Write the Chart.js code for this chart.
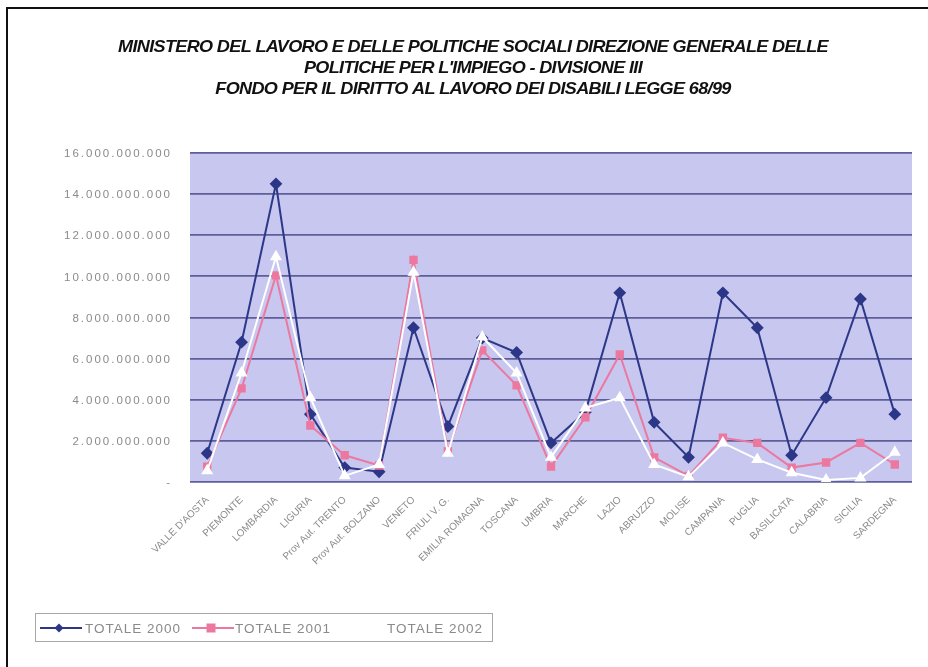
<!DOCTYPE html>
<html>
<head>
<meta charset="utf-8">
<script src="https://cdn.jsdelivr.net/npm/chart.js@4.4.1/dist/chart.umd.min.js"></script>
<style>
  html,body{margin:0;padding:0;background:#fff;}
  #wrap{position:relative;width:928px;height:667px;}
</style>
</head>
<body>
<div id="wrap"><canvas id="c" width="928" height="667"></canvas></div>
<script>
// --- dati (valori in lire) ---
const regioni = ["VALLE D'AOSTA","PIEMONTE","LOMBARDIA","LIGURIA","Prov Aut. TRENTO","Prov Aut. BOLZANO",
  "VENETO","FRIULI V. G.","EMILIA ROMAGNA","TOSCANA","UMBRIA","MARCHE","LAZIO","ABRUZZO","MOLISE",
  "CAMPANIA","PUGLIA","BASILICATA","CALABRIA","SICILIA","SARDEGNA"];
const totale2000 = [1.4e9,6.8e9,14.5e9,3.3e9,0.7e9,0.5e9,7.5e9,2.7e9,7.0e9,6.3e9,1.9e9,3.4e9,9.2e9,2.9e9,1.2e9,9.2e9,7.5e9,1.3e9,4.1e9,8.9e9,3.3e9];
const totale2001 = [0.75e9,4.55e9,10.05e9,2.75e9,1.3e9,0.8e9,10.8e9,1.5e9,6.4e9,4.7e9,0.75e9,3.15e9,6.2e9,1.2e9,0.3e9,2.15e9,1.9e9,0.7e9,0.95e9,1.9e9,0.85e9];
const totale2002 = [0.55e9,5.3e9,10.95e9,4.1e9,0.3e9,0.85e9,10.2e9,1.4e9,7.05e9,5.3e9,1.2e9,3.6e9,4.1e9,0.85e9,0.25e9,1.9e9,1.1e9,0.45e9,0.1e9,0.2e9,1.45e9];
const titolo = [
  "MINISTERO DEL LAVORO E DELLE POLITICHE SOCIALI DIREZIONE GENERALE DELLE",
  "POLITICHE PER L'IMPIEGO - DIVISIONE III",
  "FONDO PER IL DIRITTO AL LAVORO DEI DISABILI LEGGE 68/99"
];
const yMax = 16e9, yStep = 2e9;

const BLU = '#2d3788', ROSA = '#ec78a0', BIANCO = '#ffffff';
const GRIGIO = '#8a8a8a';
const FONT = '"Liberation Sans", Arial, sans-serif';

function fmt(v){
  if(v===0) return '-';
  return Math.round(v).toString().replace(/\B(?=(\d{3})+(?!\d))/g,'.');
}

// sfondo area grafico, cornice, titolo, etichette asse y e legenda
const decor = {
  id:'decor',
  beforeDraw(chart){
    const {ctx, chartArea:a} = chart;
    ctx.save();
    ctx.fillStyle = '#c7c7ef';
    ctx.fillRect(a.left, a.top, a.right-a.left, a.bottom-a.top);
    ctx.restore();
  },
  afterDraw(chart){
    const ctx = chart.ctx;
    ctx.save();
    // cornice scansionata
    ctx.strokeStyle = '#111';
    ctx.lineWidth = 2;
    ctx.beginPath();
    ctx.moveTo(7,667); ctx.lineTo(7,8); ctx.lineTo(928,8);
    ctx.stroke();

    // titolo (grassetto corsivo compresso come nell'originale)
    ctx.fillStyle = '#111';
    ctx.textAlign = 'center';
    ctx.textBaseline = 'middle';
    ctx.font = 'italic bold 16.5px ' + FONT;
    ctx.letterSpacing = '-0.6px';
    const sx = 710 / ctx.measureText(titolo[0]).width;
    titolo.forEach((t,i)=>{
      ctx.save();
      ctx.translate(473, 47 + i*21);
      ctx.scale(sx, 1);
      ctx.fillText(t, 0, 0);
      ctx.restore();
    });

    // etichette asse y, spaziate come nella scansione
    const ys = chart.scales.y;
    ctx.fillStyle = GRIGIO;
    ctx.textAlign = 'right';
    ctx.font = '11.5px ' + FONT;
    ctx.letterSpacing = '2px';
    ys.ticks.forEach(t=>{
      ctx.fillText(fmt(t.value), 172, ys.getPixelForValue(t.value) + 1);
    });

    // legenda
    const ly = 628;
    ctx.letterSpacing = '1px';
    ctx.strokeStyle = '#a8a8a8';
    ctx.lineWidth = 1;
    ctx.strokeRect(35.5, 613.5, 457, 28);
    ctx.font = '13.5px ' + FONT;
    ctx.textAlign = 'left';
    const items = [
      {x:40, col:BLU, style:'diamond', label:chart.data.datasets[0].label, tx:85},
      {x:192, col:ROSA, style:'square', label:chart.data.datasets[1].label, tx:235},
      {x:345, col:BIANCO, style:'tri', label:chart.data.datasets[2].label, tx:387}
    ];
    items.forEach(it=>{
      ctx.strokeStyle = it.col; ctx.fillStyle = it.col; ctx.lineWidth = 2;
      ctx.beginPath(); ctx.moveTo(it.x, ly); ctx.lineTo(it.x+42, ly); ctx.stroke();
      const cx = it.x+19;
      ctx.beginPath();
      if(it.style==='diamond'){ ctx.moveTo(cx,ly-4.5); ctx.lineTo(cx+4.5,ly); ctx.lineTo(cx,ly+4.5); ctx.lineTo(cx-4.5,ly); }
      else if(it.style==='square'){ ctx.rect(cx-4.5, ly-4.5, 9, 9); }
      else { ctx.moveTo(cx,ly-4.5); ctx.lineTo(cx+4.5,ly+3.5); ctx.lineTo(cx-4.5,ly+3.5); }
      ctx.closePath(); ctx.fill();
      ctx.fillStyle = GRIGIO;
      ctx.fillText(it.label, it.tx, ly+1);
    });
    ctx.restore();
  }
};

new Chart(document.getElementById('c'), {
  type:'line',
  data:{
    labels: regioni,
    datasets:[
      {label:'TOTALE 2000', data:totale2000, borderColor:BLU, backgroundColor:BLU,
       borderWidth:2, pointStyle:'rectRot', pointRadius:5, order:2},
      {label:'TOTALE 2001', data:totale2001, borderColor:ROSA, backgroundColor:ROSA,
       borderWidth:2, pointStyle:'rect', pointRadius:4.5, order:1},
      {label:'TOTALE 2002', data:totale2002, borderColor:BIANCO, backgroundColor:BIANCO,
       borderWidth:2, pointStyle:'triangle', pointRadius:5, order:0}
    ]
  },
  options:{
    responsive:false,
    animation:false,
    layout:{padding:{left:0, right:16, top:153, bottom:0}},
    plugins:{legend:{display:false}, title:{display:false}, tooltip:{enabled:false}},
    scales:{
      x:{
        offset:true,
        grid:{display:false},
        border:{display:false},
        ticks:{color:GRIGIO, font:{size:10, family:FONT},
               minRotation:45, maxRotation:45, autoSkip:false, padding:4},
        afterFit(s){ s.height = 185; }
      },
      y:{
        min:0, max:yMax,
        grid:{color:'#5e5e9a', lineWidth:1.8, drawTicks:false},
        border:{display:false},
        // etichette disegnate dal plugin (spaziatura lettere)
        ticks:{stepSize:yStep, color:'rgba(0,0,0,0)', padding:18,
               font:{size:11, family:FONT}, callback:v=>fmt(v)},
        afterFit(s){ s.width = 190; }
      }
    }
  },
  plugins:[decor]
});
</script>
</body>
</html>
